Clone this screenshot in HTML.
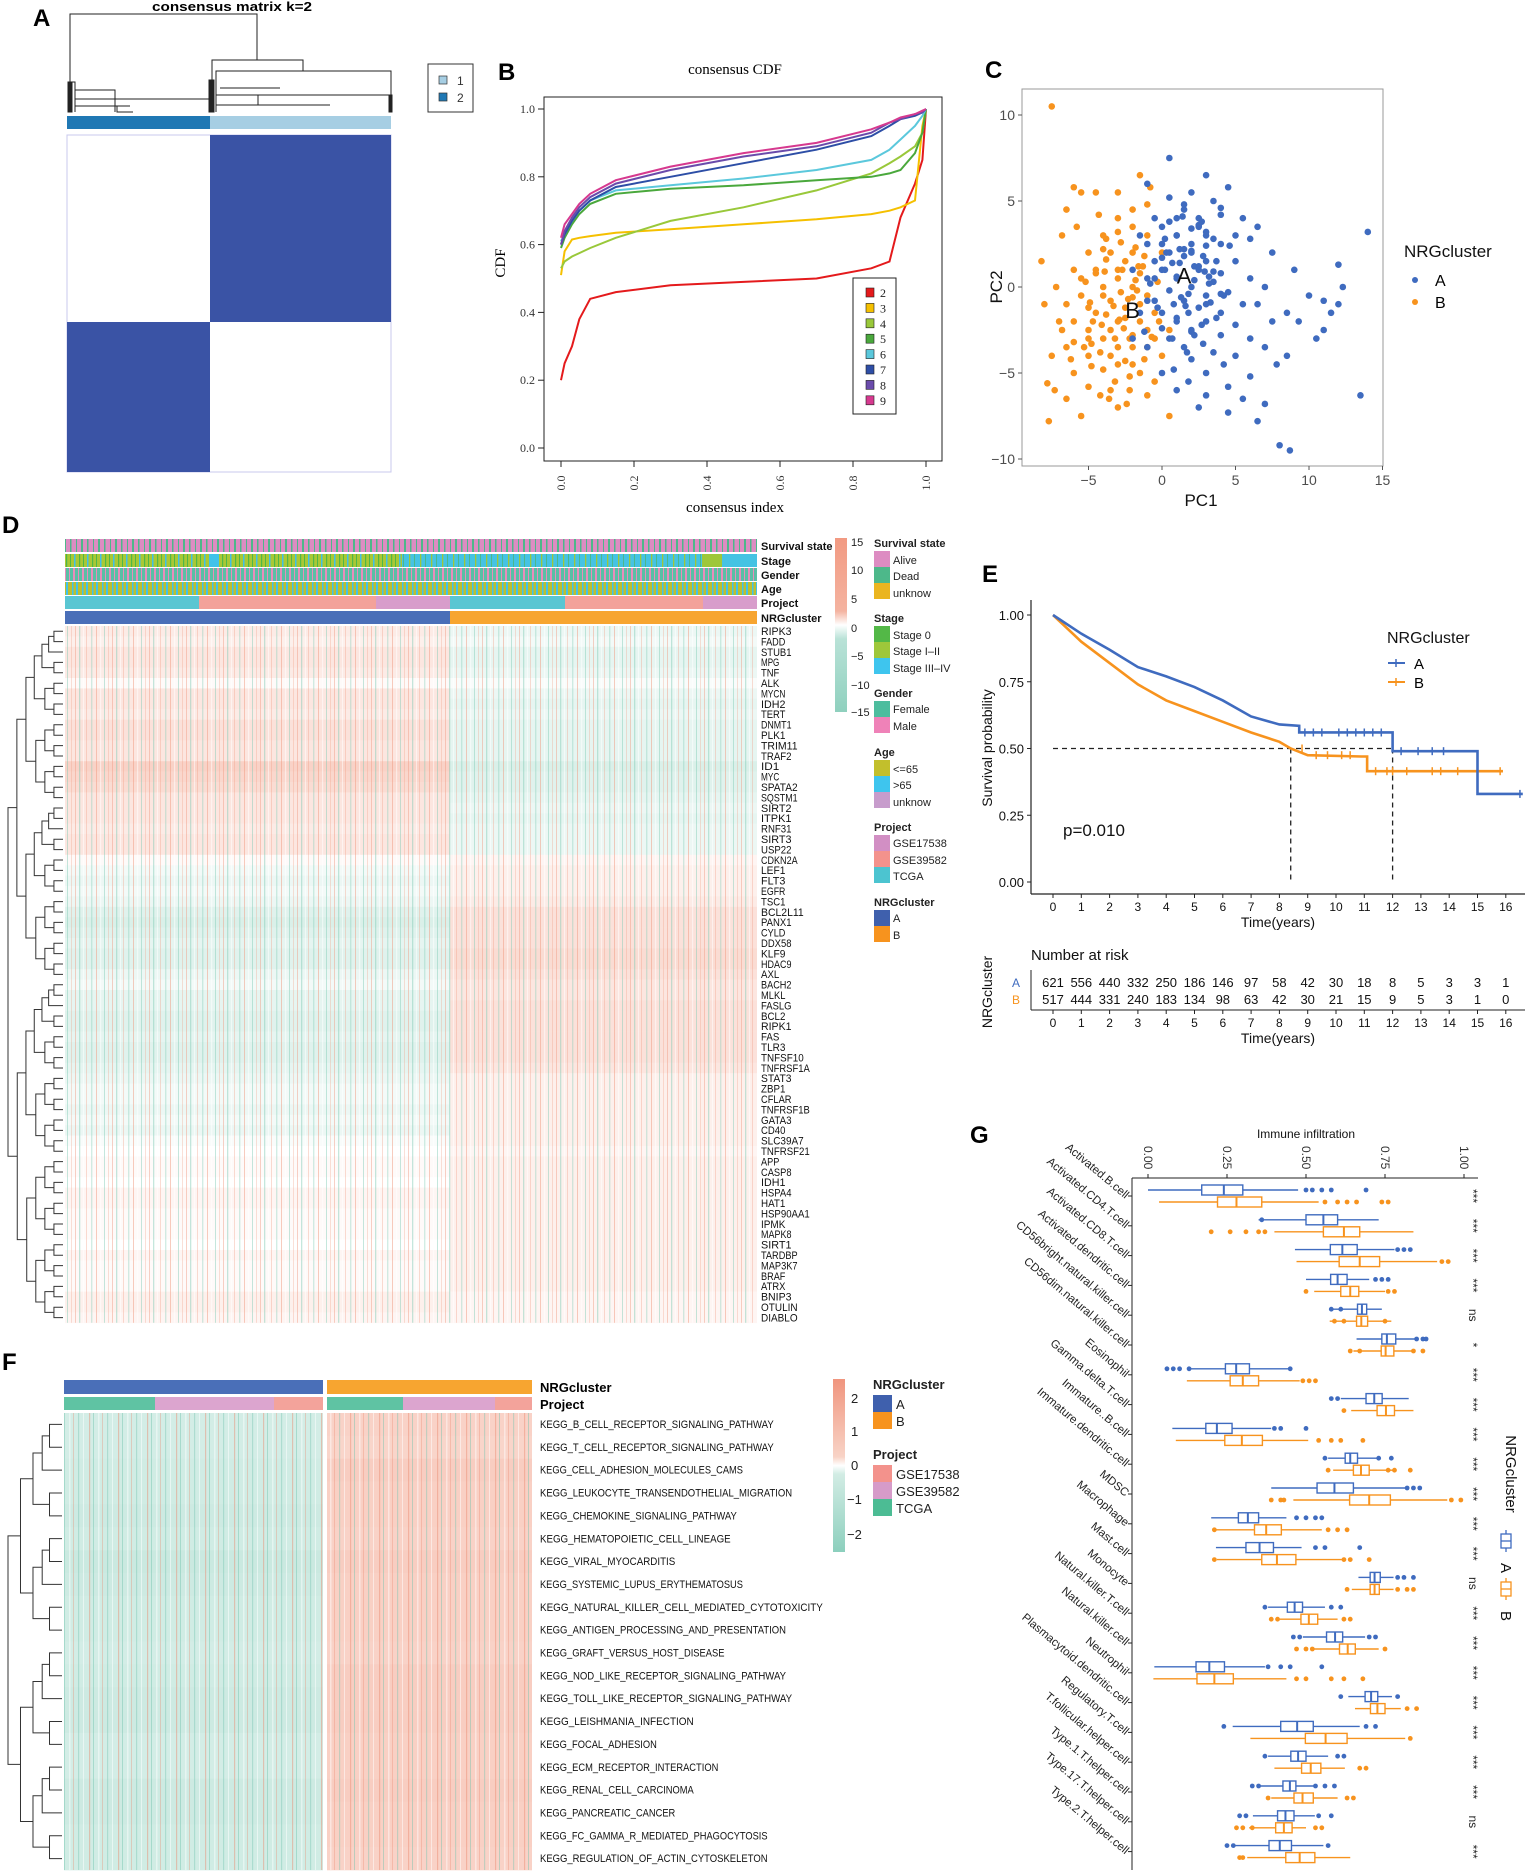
<!DOCTYPE html>
<html><head><meta charset="utf-8">
<style>
html,body{margin:0;padding:0;background:#fff;}
svg{display:block;font-family:"Liberation Sans",sans-serif;}
</style></head>
<body>
<svg id="fig" width="1530" height="1871" viewBox="0 0 1530 1871" xmlns="http://www.w3.org/2000/svg">
<defs>
<pattern id="p-surv" width="17" height="20" patternUnits="userSpaceOnUse"><rect width="17" height="20" fill="#dd8cc2"/><rect x="2" width="1.5" height="20" fill="#4db88a"/><rect x="8" width="1" height="20" fill="#4db88a"/><rect x="13" width="2" height="20" fill="#4db88a"/></pattern>
<pattern id="p-stageL" width="13" height="20" patternUnits="userSpaceOnUse"><rect width="13" height="20" fill="#a9c835"/><rect x="1" width="1.2" height="20" fill="#4fb748"/><rect x="5" width="1" height="20" fill="#4fb748"/><rect x="9" width="1.5" height="20" fill="#40c0e8"/></pattern>
<pattern id="p-stageR" width="11" height="20" patternUnits="userSpaceOnUse"><rect width="11" height="20" fill="#45c3e3"/><rect x="2" width="1.3" height="20" fill="#9ec73a"/><rect x="7" width="1" height="20" fill="#4db88a"/></pattern>
<pattern id="p-gender" width="9" height="20" patternUnits="userSpaceOnUse"><rect width="9" height="20" fill="#5abfa5"/><rect x="1" width="2" height="20" fill="#ea8bbb"/><rect x="6" width="1" height="20" fill="#ea8bbb"/></pattern>
<pattern id="p-age" width="10" height="20" patternUnits="userSpaceOnUse"><rect width="10" height="20" fill="#bcbf30"/><rect x="2" width="1.5" height="20" fill="#41c2ea"/><rect x="6" width="2" height="20" fill="#41c2ea"/></pattern>
<pattern id="p-speck" width="37" height="8" patternUnits="userSpaceOnUse"><rect x="1" width="1" height="8" fill="#f09a80" opacity="0.45"/><rect x="5" width="1.3" height="8" fill="#7ecab5" opacity="0.45"/><rect x="9" width="1" height="8" fill="#ffffff" opacity="0.5"/><rect x="12" width="1" height="8" fill="#f09a80" opacity="0.35"/><rect x="17" width="1.4" height="8" fill="#7ecab5" opacity="0.35"/><rect x="22" width="1" height="8" fill="#f09a80" opacity="0.5"/><rect x="26" width="1.2" height="8" fill="#ffffff" opacity="0.5"/><rect x="30" width="1" height="8" fill="#7ecab5" opacity="0.45"/><rect x="34" width="1" height="8" fill="#f09a80" opacity="0.3"/></pattern>
<pattern id="p-speck2" width="29" height="8" patternUnits="userSpaceOnUse"><rect x="2" width="1.2" height="8" fill="#e98a70" opacity="0.45"/><rect x="6" width="1" height="8" fill="#72c4ae" opacity="0.45"/><rect x="11" width="1.5" height="8" fill="#ffffff" opacity="0.45"/><rect x="15" width="1" height="8" fill="#e98a70" opacity="0.35"/><rect x="20" width="1.2" height="8" fill="#72c4ae" opacity="0.4"/><rect x="25" width="1" height="8" fill="#ffffff" opacity="0.5"/></pattern>
</defs>

<!-- ===== Panel A ===== -->
<g>
<text x="33" y="26" font-size="24" font-weight="bold">A</text>
<text x="232" y="11" font-size="13" font-weight="bold" text-anchor="middle" textLength="160" lengthAdjust="spacingAndGlyphs">consensus matrix k=2</text>
<g stroke="#222" stroke-width="1" fill="none">
<path d="M70,112 V14 H257 V60"/><path d="M212,112 V60 H303 V71"/><path d="M216,112 V71 H391 V112"/>
<path d="M216,95 H391"/><path d="M216,105 H330"/><path d="M220,88 H280"/><path d="M258,95 V105"/>
<path d="M68,82 H75 V112"/><path d="M75,90 H115 V112"/><path d="M75,99 H210 V112"/><path d="M75,106 H130"/><path d="M117,106 V112 H133"/>
<rect x="68" y="82" width="4" height="30" fill="#222"/><rect x="209" y="80" width="5" height="32" fill="#222"/><rect x="389" y="95" width="3" height="17" fill="#222"/>
</g>
<rect x="67" y="116" width="143" height="13" fill="#1f78b4"/>
<rect x="210" y="116" width="181" height="13" fill="#a6cee3"/>
<rect x="67" y="135" width="324" height="337" fill="#fff" stroke="#c8c8ee" stroke-width="1"/>
<rect x="210" y="135" width="181" height="187" fill="#3a53a5"/>
<rect x="67" y="322" width="143" height="150" fill="#3a53a5"/>
<g>
<rect x="428" y="64" width="45" height="48" fill="#fff" stroke="#333"/>
<rect x="439" y="76" width="8" height="8" fill="#a6cee3" stroke="#333" stroke-width="0.7"/><text x="457" y="85" font-size="12" fill="#333">1</text>
<rect x="439" y="93" width="8" height="8" fill="#1f78b4" stroke="#333" stroke-width="0.7"/><text x="457" y="102" font-size="12" fill="#333">2</text>
</g>
</g>

<!-- ===== Panel B static ===== -->
<g font-family="'Liberation Serif',serif">
<text x="498" y="80" font-size="24" font-weight="bold" font-family="'Liberation Sans',sans-serif">B</text>
<text x="735" y="74" font-size="15" text-anchor="middle">consensus CDF</text>
<rect x="544" y="97" width="398" height="364" fill="none" stroke="#222"/>
<text transform="translate(505,263) rotate(-90)" font-size="15" text-anchor="middle">CDF</text>
<text x="735" y="512" font-size="15" text-anchor="middle">consensus index</text>
<g id="b-axes"></g>
<g id="b-curves"></g>
<g id="b-legend"><rect x="853" y="278" width="43" height="136" fill="#fff" stroke="#222"/></g>
</g>

<!-- ===== Panel C static ===== -->
<g>
<text x="985" y="78" font-size="24" font-weight="bold">C</text>
<rect x="1022" y="89" width="361" height="377" fill="#fff" stroke="#999"/>
<g id="c-axes"></g>
<g id="c-points"></g>
<text x="1201" y="506" font-size="17" text-anchor="middle" fill="#111">PC1</text>
<text transform="translate(1002,287) rotate(-90)" font-size="17" text-anchor="middle" fill="#111">PC2</text>
<text x="1404" y="257" font-size="17" fill="#111">NRGcluster</text>
<circle cx="1415" cy="280" r="3" fill="#3f6bbf"/><text x="1435" y="286" font-size="16">A</text>
<circle cx="1415" cy="302" r="3" fill="#f7931e"/><text x="1435" y="308" font-size="16">B</text>
</g>

<!-- ===== Panel D static ===== -->
<g>
<text x="2" y="533" font-size="24" font-weight="bold">D</text>
<rect x="65" y="539" width="692" height="13" fill="url(#p-surv)"/>
<rect x="65" y="554" width="144" height="13" fill="url(#p-stageL)"/>
<rect x="209" y="554" width="10" height="13" fill="#40c2ea"/>
<rect x="219" y="554" width="183" height="13" fill="url(#p-stageL)"/>
<rect x="402" y="554" width="300" height="13" fill="url(#p-stageR)"/>
<rect x="702" y="554" width="20" height="13" fill="#9ec73a"/>
<rect x="722" y="554" width="35" height="13" fill="#45c3e3"/>
<rect x="65" y="568" width="692" height="13" fill="url(#p-gender)"/>
<rect x="65" y="582" width="692" height="13" fill="url(#p-age)"/>
<g>
<rect x="65" y="596" width="134" height="13" fill="#5ac6d2"/><rect x="199" y="596" width="177" height="13" fill="#f3a29a"/><rect x="376" y="596" width="74" height="13" fill="#d89dcb"/>
<rect x="450" y="596" width="115" height="13" fill="#5ac6d2"/><rect x="565" y="596" width="138" height="13" fill="#f3a29a"/><rect x="703" y="596" width="54" height="13" fill="#d89dcb"/>
</g>
<rect x="65" y="611" width="385" height="13" fill="#4a6fb8"/>
<rect x="450" y="611" width="307" height="13" fill="#f7a530"/>
<g font-size="11" font-weight="bold" fill="#111">
<text x="761" y="550">Survival state</text><text x="761" y="565">Stage</text><text x="761" y="579">Gender</text><text x="761" y="593">Age</text><text x="761" y="607">Project</text><text x="761" y="622">NRGcluster</text>
</g>
<g id="d-heat"></g>
<g id="d-dendro" stroke="#333" fill="none" stroke-width="1"></g>
<g id="d-labels" font-size="11" fill="#111"></g>
<g font-size="11" fill="#222">
<defs><linearGradient id="g-d" x1="0" y1="0" x2="0" y2="1"><stop offset="0" stop-color="#f29a82"/><stop offset="0.42" stop-color="#f4b3a0"/><stop offset="0.5" stop-color="#ffffff"/><stop offset="0.58" stop-color="#b9e2d7"/><stop offset="1" stop-color="#8fd0be"/></linearGradient></defs>
<rect x="835" y="538" width="12" height="174" fill="url(#g-d)"/>
<text x="851" y="546">15</text><text x="851" y="574">10</text><text x="851" y="603">5</text><text x="851" y="632">0</text><text x="851" y="660">−5</text><text x="851" y="689">−10</text><text x="851" y="716">−15</text>
<g font-weight="bold"><text x="874" y="547">Survival state</text><text x="874" y="622">Stage</text><text x="874" y="697">Gender</text><text x="874" y="756">Age</text><text x="874" y="831">Project</text><text x="874" y="906">NRGcluster</text></g>
<rect x="874" y="551" width="16" height="16" fill="#dd8cc2"/><text x="893" y="564">Alive</text>
<rect x="874" y="567" width="16" height="16" fill="#4db88a"/><text x="893" y="580">Dead</text>
<rect x="874" y="583" width="16" height="16" fill="#eab520"/><text x="893" y="597">unknow</text>
<rect x="874" y="626" width="16" height="16" fill="#53b847"/><text x="893" y="639">Stage 0</text>
<rect x="874" y="642" width="16" height="16" fill="#9ec73a"/><text x="893" y="655">Stage I–II</text>
<rect x="874" y="658" width="16" height="16" fill="#3ec5ee"/><text x="893" y="672">Stage III–IV</text>
<rect x="874" y="701" width="16" height="16" fill="#4dbd9e"/><text x="893" y="713">Female</text>
<rect x="874" y="717" width="16" height="16" fill="#ef82b8"/><text x="893" y="730">Male</text>
<rect x="874" y="760" width="16" height="16" fill="#c2bf2c"/><text x="893" y="773">&lt;=65</text>
<rect x="874" y="776" width="16" height="16" fill="#3ec5ee"/><text x="893" y="789">&gt;65</text>
<rect x="874" y="792" width="16" height="16" fill="#c79ccc"/><text x="893" y="806">unknow</text>
<rect x="874" y="835" width="16" height="16" fill="#d28fc4"/><text x="893" y="847">GSE17538</text>
<rect x="874" y="851" width="16" height="16" fill="#f3928c"/><text x="893" y="864">GSE39582</text>
<rect x="874" y="867" width="16" height="16" fill="#4cc4d0"/><text x="893" y="880">TCGA</text>
<rect x="874" y="910" width="16" height="16" fill="#3f60ad"/><text x="893" y="922">A</text>
<rect x="874" y="926" width="16" height="16" fill="#f7931e"/><text x="893" y="939">B</text>
</g>
</g>

<!-- ===== Panel E static ===== -->
<g>
<text x="982" y="582" font-size="24" font-weight="bold">E</text>
<g id="e-axes"></g>
<g id="e-curves"></g>
<text transform="translate(992,748) rotate(-90)" font-size="14" text-anchor="middle" fill="#111">Survival probability</text>
<text x="1278" y="927" font-size="14" text-anchor="middle" fill="#111">Time(years)</text>
<text x="1063" y="836" font-size="17" fill="#111">p=0.010</text>
<text x="1387" y="643" font-size="16" fill="#111">NRGcluster</text>
<line x1="1388" y1="663" x2="1405" y2="663" stroke="#3f6bbf" stroke-width="2"/><line x1="1396" y1="659" x2="1396" y2="667" stroke="#3f6bbf" stroke-width="1.5"/>
<text x="1414" y="669" font-size="15">A</text>
<line x1="1388" y1="682" x2="1405" y2="682" stroke="#f7931e" stroke-width="2"/><line x1="1396" y1="678" x2="1396" y2="686" stroke="#f7931e" stroke-width="1.5"/>
<text x="1414" y="688" font-size="15">B</text>
<text x="1031" y="960" font-size="15" fill="#111">Number at risk</text>
<text transform="translate(992,992) rotate(-90)" font-size="14" text-anchor="middle" fill="#111">NRGcluster</text>
<text x="1020" y="987" font-size="12" fill="#3f6bbf" text-anchor="end">A</text>
<text x="1020" y="1004" font-size="12" fill="#f7931e" text-anchor="end">B</text>
<line x1="1031" y1="970" x2="1031" y2="1010" stroke="#222"/>
<line x1="1031" y1="1010" x2="1525" y2="1010" stroke="#222"/>
<text x="1278" y="1043" font-size="14" text-anchor="middle" fill="#111">Time(years)</text>
<g id="e-risk" font-size="13" fill="#111" text-anchor="middle"></g>
</g>

<!-- ===== Panel F static ===== -->
<g>
<text x="2" y="1370" font-size="24" font-weight="bold">F</text>
<rect x="64" y="1380" width="259" height="14" fill="#4a6fb8"/>
<rect x="327" y="1380" width="205" height="14" fill="#f7a530"/>
<g>
<rect x="64" y="1397" width="91" height="13" fill="#5fc3a3"/><rect x="155" y="1397" width="119" height="13" fill="#dca5cf"/><rect x="274" y="1397" width="49" height="13" fill="#f3a39b"/>
<rect x="327" y="1397" width="76" height="13" fill="#5fc3a3"/><rect x="403" y="1397" width="92" height="13" fill="#dca5cf"/><rect x="495" y="1397" width="37" height="13" fill="#f3a39b"/>
</g>
<text x="540" y="1392" font-size="13" font-weight="bold">NRGcluster</text>
<text x="540" y="1409" font-size="13" font-weight="bold">Project</text>
<g id="f-heat"></g>
<g id="f-dendro" stroke="#333" fill="none" stroke-width="1"></g>
<g id="f-labels" font-size="11" fill="#111"></g>
<g font-size="13" fill="#222">
<defs><linearGradient id="g-f" x1="0" y1="0" x2="0" y2="1"><stop offset="0" stop-color="#f0957e"/><stop offset="0.45" stop-color="#f8d3c6"/><stop offset="0.5" stop-color="#ffffff"/><stop offset="0.55" stop-color="#d2ece4"/><stop offset="1" stop-color="#8ccfbd"/></linearGradient></defs>
<rect x="833" y="1379" width="12" height="173" fill="url(#g-f)"/>
<text x="851" y="1403">2</text><text x="851" y="1436">1</text><text x="851" y="1470">0</text><text x="847" y="1504">−1</text><text x="847" y="1539">−2</text>
<text x="873" y="1389" font-weight="bold">NRGcluster</text>
<rect x="873" y="1395" width="19" height="17" fill="#3f60ad"/><text x="896" y="1409">A</text>
<rect x="873" y="1412" width="19" height="17" fill="#f7931e"/><text x="896" y="1426">B</text>
<text x="873" y="1459" font-weight="bold">Project</text>
<rect x="873" y="1465" width="19" height="17" fill="#f3928c"/><text x="896" y="1479">GSE17538</text>
<rect x="873" y="1482" width="19" height="17" fill="#d69bc9"/><text x="896" y="1496">GSE39582</text>
<rect x="873" y="1499" width="19" height="17" fill="#4cbc94"/><text x="896" y="1513">TCGA</text>
</g>
</g>

<!-- ===== Panel G static ===== -->
<g>
<text x="970" y="1143" font-size="24" font-weight="bold">G</text>
<text x="1306" y="1138" font-size="12" text-anchor="middle" fill="#111">Immune infiltration</text>
<line x1="1132" y1="1178" x2="1478" y2="1178" stroke="#222"/>
<line x1="1132" y1="1178" x2="1132" y2="1870" stroke="#222"/>
<g id="g-axes"></g>
<g id="g-boxes"></g>
<text transform="translate(1506,1474) rotate(90)" font-size="15" text-anchor="middle" fill="#111">NRGcluster</text>
<g stroke="#3f6bbf" fill="none" stroke-width="1.3"><rect x="1501" y="1534" width="10" height="14"/><line x1="1501" y1="1541" x2="1511" y2="1541"/><line x1="1506" y1="1530" x2="1506" y2="1534"/><line x1="1506" y1="1548" x2="1506" y2="1552"/></g>
<text transform="translate(1501,1563) rotate(90)" font-size="15" fill="#111">A</text>
<g stroke="#f7931e" fill="none" stroke-width="1.3"><rect x="1501" y="1582" width="10" height="14"/><line x1="1501" y1="1589" x2="1511" y2="1589"/><line x1="1506" y1="1578" x2="1506" y2="1582"/><line x1="1506" y1="1596" x2="1506" y2="1600"/></g>
<text transform="translate(1501,1611) rotate(90)" font-size="15" fill="#111">B</text>
</g>
</svg>

<script>
const NS = "http://www.w3.org/2000/svg";
function mk(tag, attrs, parent) {
  const e = document.createElementNS(NS, tag);
  for (const k in attrs) e.setAttribute(k, attrs[k]);
  parent.appendChild(e);
  return e;
}

/* ---------- Panel B data ---------- */
const cdfX = [0, 0.01, 0.03, 0.05, 0.08, 0.15, 0.3, 0.5, 0.7, 0.85, 0.9, 0.93, 0.97, 0.99, 1.0];
const cdfK = ["2", "3", "4", "5", "6", "7", "8", "9"];
const cdf2 = [0.2, 0.25, 0.3, 0.38, 0.44, 0.46, 0.48, 0.49, 0.5, 0.53, 0.55, 0.68, 0.78, 0.85, 1.0];
const cdf3 = [0.51, 0.58, 0.615, 0.62, 0.625, 0.635, 0.645, 0.66, 0.675, 0.69, 0.70, 0.71, 0.73, 0.95, 1.0];
const cdf4 = [0.53, 0.55, 0.565, 0.575, 0.59, 0.62, 0.67, 0.71, 0.76, 0.81, 0.84, 0.86, 0.89, 0.93, 1.0];
const cdf5 = [0.59, 0.62, 0.66, 0.69, 0.72, 0.75, 0.765, 0.775, 0.79, 0.80, 0.81, 0.82, 0.87, 0.93, 1.0];
const cdf6 = [0.61, 0.63, 0.67, 0.70, 0.73, 0.76, 0.775, 0.795, 0.82, 0.85, 0.88, 0.91, 0.95, 0.98, 1.0];
const cdf7 = [0.60, 0.63, 0.67, 0.70, 0.73, 0.77, 0.80, 0.84, 0.88, 0.92, 0.95, 0.97, 0.98, 0.99, 1.0];
const cdf8 = [0.60, 0.64, 0.68, 0.71, 0.74, 0.78, 0.82, 0.86, 0.89, 0.93, 0.96, 0.97, 0.985, 0.99, 1.0];
const cdf9 = [0.62, 0.66, 0.69, 0.72, 0.75, 0.79, 0.83, 0.87, 0.90, 0.94, 0.96, 0.975, 0.985, 0.995, 1.0];
const cdfSeries = [cdf2, cdf3, cdf4, cdf5, cdf6, cdf7, cdf8, cdf9];
const cdfColors = ["#e41a1c", "#f5c000", "#99c83a", "#4aa83c", "#5bc8dc", "#2d4ea6", "#6a4bab", "#d6398f"];
const cdfTicks = [0, 0.2, 0.4, 0.6, 0.8, 1.0];

/* ---------- Panel C data ---------- */
const pcaAx = [0.5,-1,2,3.5,1.5,2.5,-0.5,4,5,0,1,3,-1,2,4,0.5,1.5,3,-0.5,5,2.5,0,4,1,3.5,6,-1,2,0.5,4.5,3,1.5,5.5,-0.5,2.5,4,0,6.5,1,3,5,2,4,0.5,6,2.8,1.5,3.5,5,2,4.2,0.8,3,6,1.8,4.5,3,5.5,2.5,7,4.5,6.5,8,8.7,8.5,7,7.5,8.5,9,10,11,11.5,12,12.3,12,11,10.5,13.5,14,7,7.5,6,5.5,4.5,3,2.5,1,-1.5,-2,-1.5,-2,-1,0,1,7.8,9.3,6.5,1.2,2.2,3.2,0.2,-0.8,1.8,2.7,3.7,0.7,1.3,2.0,2.9,-1.2,3.3,4.6,1.6,0.3,
  0,1,2,3,0.5,1.5,2.5,3.5,-0.5,0.2,1.2,2.2,3.2,4.2,0.8,1.8,2.8,-1,0,1,2,3,4,0.5,1.5,2.5,3.5,-0.3,0.7,1.7,2.7,3.7,1,2,3,0,4,2.2,1.4,0.4];
const pcaAy = [7.5,6,5.5,5,4.5,4,4,4.2,3,3.5,3,3,2.5,2.5,2.5,2,1.8,1.5,1.5,1.5,1,1,0.8,0.5,0.3,0.5,0.5,0,-0.2,-0.3,-0.5,-0.8,-1,-0.8,-1.2,-1.5,-1.5,-1,-2,-2,-2.2,-2.5,-2.8,-3,-3,-3.3,-3.5,-3.8,-4,-4.2,-4.5,-4.8,-5,-5.2,-5.5,-5.8,-6.3,-6.5,-7,-6.8,-7.3,-7.8,-9.2,-9.5,-4,-3.5,-2,-1.5,1,-0.5,-0.8,-1.5,-1,0,1.3,-2.5,-3,-6.3,3.2,0,2,2.8,4,5.8,6.5,3.5,4,3,1,-1.5,-3,-3.5,-5,-6,-4.5,-2,3.5,2.2,1.2,0.6,2.8,0.2,-0.4,3.8,-1.8,1.4,-0.6,2.1,0.9,-2.6,-0.9,2.4,-1.1,
  2,2.5,3,2,3.2,3.8,2.2,1.2,2.8,0.5,1,1.4,0.4,0.2,-0.5,-1,-1.5,1.8,-0.8,-2.4,-1.8,-2.6,-1,4.6,5.2,4.8,3.6,0.9,-1.2,-3,-3.8,-2.2,1.5,0.6,3.4,2.4,1.7,-0.4,-2.8,4.1];
const pcaBx = [-7.5,-5.5,-6.5,-5.8,-1.5,-0.8,-3,-4,-2,-1,-3.5,-5,-2.5,-4.5,-6,-3,-1.5,-4,-2,-5.5,-3.5,-1,-6.5,-2.5,-4.5,-3,-1.5,-5,-7,-2,-4,-6,-3,-1,-5,-7.5,-2.5,-4,-6,-1.5,-3.2,-5,-7.8,-2.2,-4.2,-6.5,-3,-5.5,-7.7,0.5,-0.5,0,0.5,-8,-8.2,-6.8,-7.3,-2.7,-3.8,-1.2,-0.3,-0.5,-2,-1,-4.8,-3.5,-2.2,-5.2,-6.2,-4.3,-3,-1.8,0,-0.5,-4.7,-2.8,-3.8,-2,-1,-3.5,-5.3,-6.8,-7.2,-6,-4.5,-3.3,-2.3,-4.1,-1.7,-2.9,-3.9,-4.9,-2.6,-1.3,-0.7,
  -2,-3,-4,-2.5,-3.5,-1.5,-4.5,-2,-3,-1,-5,-3.8,-2.8,-1.8,-4.2,-3.2,-2.2,-5.5,-6,-4.8,-3.6,-2.4,-1.2,-0.2,-4,-3,-2,-5,-6.5,-1.6];
const pcaBy = [10.5,5.5,4.5,3.5,6.5,5.8,4,3,3.5,3,2,2,1.5,1,1,0.5,0.8,0,0,-0.5,-0.8,-0.5,-1,-1.2,-1.5,-2,-2,-2.5,-2,-2.8,-3,-3.2,-3.5,-3.5,-4,-4,-4.3,-4.8,-5,-5,-5.5,-5.8,-5.6,-6,-6.3,-6.5,-7,-7.5,-7.8,-7.5,-5.5,-4,-2.5,-1,1.5,3,-6,1,2.8,1.8,0.3,-1.5,4.5,4.8,-3.3,-4,-3,0.3,-4.2,4.2,5.5,2.3,2,-3,-2,-0.3,-1.6,-4.5,-6.3,-6,-3.5,-2.5,0,5.8,5.5,-1.1,-0.7,-2.2,-0.2,-1.9,0.9,-0.9,-2.4,1.2,-2.9,
  2,1,-0.5,-1.8,-2.5,-1,0.8,-3.5,-4.5,-2.5,-1.2,1.6,2.6,0.4,-3.8,-3,-5.2,0.5,-2,-4.6,-6.5,-6.8,-4.2,-2,2.2,3.2,-0.6,-3,-3.5,1.2];
const pcaXTicks = [-5, 0, 5, 10, 15];
const pcaYTicks = [-10, -5, 0, 5, 10];

/* ---------- Panel D data ---------- */
const genes = ["RIPK3","FADD","STUB1","MPG","TNF","ALK","MYCN","IDH2","TERT","DNMT1","PLK1","TRIM11","TRAF2","ID1","MYC","SPATA2","SQSTM1","SIRT2","ITPK1","RNF31","SIRT3","USP22","CDKN2A","LEF1","FLT3","EGFR","TSC1","BCL2L11","PANX1","CYLD","DDX58","KLF9","HDAC9","AXL","BACH2","MLKL","FASLG","BCL2","RIPK1","FAS","TLR3","TNFSF10","TNFRSF1A","STAT3","ZBP1","CFLAR","TNFRSF1B","GATA3","CD40","SLC39A7","TNFRSF21","APP","CASP8","IDH1","HSPA4","HAT1","HSP90AA1","IPMK","MAPK8","SIRT1","TARDBP","MAP3K7","BRAF","ATRX","BNIP3","OTULIN","DIABLO"];
const geneA = [0.4,0.3,0.5,0.5,0.4,0.1,0.5,0.5,0.4,0.6,0.6,0.5,0.5,0.9,0.8,0.7,0.5,0.5,0.5,0.4,0.5,0.5,0.1,-0.2,-0.3,-0.2,-0.3,-0.5,-0.6,-0.5,-0.4,-0.5,-0.5,-0.3,-0.2,-0.4,-0.4,-0.5,-0.5,-0.4,-0.5,-0.5,-0.4,-0.3,-0.2,-0.2,-0.3,-0.2,-0.3,-0.1,0.0,0.1,0.1,0.0,0.2,0.2,0.1,0.1,0.1,0.0,0.2,0.1,0.1,0.1,0.3,0.3,0.2];
const geneB = [-0.3,-0.2,-0.4,-0.4,-0.3,-0.1,-0.3,-0.4,-0.3,-0.4,-0.4,-0.4,-0.4,-0.6,-0.5,-0.5,-0.4,-0.3,-0.4,-0.3,-0.3,-0.3,0.2,0.3,0.3,0.3,0.4,0.6,0.6,0.6,0.6,0.7,0.7,0.6,0.5,0.5,0.6,0.6,0.6,0.6,0.6,0.6,0.5,0.3,0.3,0.3,0.3,0.3,0.3,0.3,0.2,0.3,0.3,0.3,0.3,0.3,0.3,0.3,0.3,0.3,0.3,0.3,0.3,0.3,0.2,0.2,0.2];

/* ---------- Panel E data ---------- */
const kmTimeA = [0,1,2,3,4,5,6,7,8,8.7,8.7,12,12,15,15,16.6];
const kmSurvA = [1,0.93,0.87,0.805,0.77,0.73,0.68,0.62,0.59,0.585,0.56,0.56,0.49,0.49,0.33,0.33];
const kmTimeB = [0,1,2,3,4,5,6,7,8,8.4,9,10.9,11.1,15.9];
const kmSurvB = [1,0.9,0.82,0.74,0.68,0.64,0.6,0.56,0.525,0.50,0.475,0.47,0.415,0.415];
const kmMedians = [8.4, 12];
const kmYTicks = [0, 0.25, 0.5, 0.75, 1.0];
const kmYLabels = ["0.00", "0.25", "0.50", "0.75", "1.00"];
const kmXTicks = [0,1,2,3,4,5,6,7,8,9,10,11,12,13,14,15,16];
const riskA = [621,556,440,332,250,186,146,97,58,42,30,18,8,5,3,3,1];
const riskB = [517,444,331,240,183,134,98,63,42,30,21,15,9,5,3,1,0];
const censorA = [8.9,9.2,9.5,10.1,10.4,10.7,11.0,11.3,11.6,12.3,12.9,13.4,13.8,16.5];
const censorB = [8.8,9.3,9.7,10.2,10.5,11.4,11.8,12.0,12.5,13.4,13.7,14.3,15.8];

/* ---------- Panel F data ---------- */
const pathways = ["KEGG_B_CELL_RECEPTOR_SIGNALING_PATHWAY","KEGG_T_CELL_RECEPTOR_SIGNALING_PATHWAY","KEGG_CELL_ADHESION_MOLECULES_CAMS","KEGG_LEUKOCYTE_TRANSENDOTHELIAL_MIGRATION","KEGG_CHEMOKINE_SIGNALING_PATHWAY","KEGG_HEMATOPOIETIC_CELL_LINEAGE","KEGG_VIRAL_MYOCARDITIS","KEGG_SYSTEMIC_LUPUS_ERYTHEMATOSUS","KEGG_NATURAL_KILLER_CELL_MEDIATED_CYTOTOXICITY","KEGG_ANTIGEN_PROCESSING_AND_PRESENTATION","KEGG_GRAFT_VERSUS_HOST_DISEASE","KEGG_NOD_LIKE_RECEPTOR_SIGNALING_PATHWAY","KEGG_TOLL_LIKE_RECEPTOR_SIGNALING_PATHWAY","KEGG_LEISHMANIA_INFECTION","KEGG_FOCAL_ADHESION","KEGG_ECM_RECEPTOR_INTERACTION","KEGG_RENAL_CELL_CARCINOMA","KEGG_PANCREATIC_CANCER","KEGG_FC_GAMMA_R_MEDIATED_PHAGOCYTOSIS","KEGG_REGULATION_OF_ACTIN_CYTOSKELETON"];
const pathA = [-0.7,-0.7,-0.75,-0.75,-0.8,-0.75,-0.85,-0.8,-0.75,-0.75,-0.7,-0.75,-0.8,-0.8,-0.7,-0.7,-0.8,-0.8,-0.75,-0.75];
const pathB = [0.9,0.85,1.0,0.95,0.95,0.9,1.0,0.95,0.95,0.95,0.9,1.0,1.0,1.0,0.95,0.95,1.0,0.95,0.95,0.9];

/* ---------- Panel G data ---------- */
const cells = ["Activated.B.cell","Activated.CD4.T.cell","Activated.CD8.T.cell","Activated.dendritic.cell","CD56bright.natural.killer.cell","CD56dim.natural.killer.cell","Eosinophil","Gamma.delta.T.cell","Immature..B.cell","Immature.dendritic.cell","MDSC","Macrophage","Mast.cell","Monocyte","Natural.killer.T.cell","Natural.killer.cell","Neutrophil","Plasmacytoid.dendritic.cell","Regulatory.T.cell","T.follicular.helper.cell","Type.1.T.helper.cell","Type.17.T.helper.cell","Type.2.T.helper.cell"];
const boxA = [[0.00,0.17,0.24,0.30,0.475],[0.35,0.50,0.555,0.60,0.73],[0.465,0.577,0.615,0.662,0.78],[0.50,0.578,0.60,0.63,0.70],[0.574,0.663,0.677,0.692,0.74],[0.66,0.74,0.756,0.784,0.846],[0.136,0.245,0.279,0.321,0.454],[0.61,0.69,0.716,0.741,0.825],[0.077,0.183,0.218,0.266,0.39],[0.57,0.624,0.64,0.663,0.735],[0.39,0.535,0.59,0.65,0.815],[0.20,0.286,0.316,0.35,0.438],[0.215,0.31,0.353,0.397,0.486],[0.666,0.703,0.717,0.735,0.777],[0.38,0.441,0.464,0.489,0.56],[0.49,0.565,0.592,0.616,0.687],[0.02,0.152,0.194,0.242,0.37],[0.634,0.687,0.706,0.727,0.772],[0.268,0.42,0.472,0.523,0.67],[0.38,0.452,0.475,0.50,0.57],[0.353,0.427,0.449,0.468,0.528],[0.332,0.41,0.435,0.462,0.528],[0.268,0.383,0.417,0.454,0.555]];
const boxB = [[0.035,0.22,0.28,0.36,0.54],[0.40,0.555,0.62,0.67,0.84],[0.47,0.605,0.67,0.733,0.915],[0.526,0.61,0.64,0.667,0.75],[0.575,0.66,0.675,0.695,0.77],[0.65,0.738,0.752,0.778,0.835],[0.123,0.26,0.30,0.35,0.48],[0.643,0.725,0.753,0.78,0.84],[0.088,0.243,0.297,0.362,0.507],[0.586,0.65,0.674,0.70,0.78],[0.46,0.638,0.70,0.767,0.947],[0.215,0.337,0.374,0.422,0.55],[0.218,0.36,0.408,0.468,0.613],[0.645,0.703,0.717,0.732,0.777],[0.417,0.484,0.509,0.537,0.60],[0.517,0.606,0.632,0.656,0.73],[0.017,0.155,0.21,0.27,0.438],[0.655,0.704,0.726,0.75,0.80],[0.324,0.498,0.562,0.63,0.814],[0.40,0.486,0.515,0.547,0.623],[0.39,0.462,0.489,0.523,0.60],[0.32,0.404,0.43,0.456,0.50],[0.314,0.436,0.48,0.528,0.64]];
const outA = [[0.50,0.52,0.55,0.58,0.69],[0.36],[0.79,0.81,0.83],[0.72,0.74,0.76],[0.58,0.61],[0.85,0.87,0.88],[0.06,0.08,0.10,0.13,0.45],[0.58,0.60],[0.40,0.42,0.50],[0.56,0.73,0.77],[0.82,0.84,0.86],[0.47,0.50,0.53,0.55],[0.53,0.56,0.67],[0.79,0.81,0.84],[0.37,0.58,0.61],[0.46,0.48,0.70,0.72],[0.38,0.42,0.45,0.55],[0.61,0.79],[0.24,0.69,0.72],[0.37,0.60,0.62],[0.33,0.35,0.53,0.56,0.59],[0.29,0.31,0.54,0.58],[0.25,0.27,0.57]];
const outB = [[0.56,0.60,0.63,0.66,0.74,0.76],[0.20,0.26,0.31,0.35,0.37],[0.93,0.95],[0.50,0.76,0.78],[0.59,0.62,0.75],[0.64,0.67,0.84,0.87],[0.49,0.51,0.53],[0.62],[0.54,0.58,0.61,0.68],[0.57,0.76,0.78,0.83],[0.39,0.42,0.43,0.96,0.99],[0.21,0.57,0.60,0.63],[0.21,0.62,0.64,0.70],[0.63,0.79,0.82,0.84],[0.39,0.41,0.62,0.64],[0.47,0.50,0.52,0.75],[0.47,0.50,0.58,0.62,0.68],[0.82,0.85],[0.83],[0.67,0.69],[0.38,0.63,0.65],[0.28,0.30,0.33,0.53,0.55],[0.29,0.30]];
const sig = ["***","***","***","***","ns","*","***","***","***","***","***","***","***","ns","***","***","***","***","***","***","***","ns","***"];
const gTicks = [0, 0.25, 0.5, 0.75, 1.0];
const gTickLabels = ["0.00", "0.25", "0.50", "0.75", "1.00"];

/* ================= Panel B drawing ================= */
const bx = v => 561 + v * 365;
const by = v => 448 - v * 339;
const bAxes = document.getElementById("b-axes");
cdfTicks.forEach(v => {
  const t1 = mk("line", {x1: 538, y1: by(v), x2: 544, y2: by(v), stroke: "#222"}, bAxes);
  
  
  const l1 = mk("text", {x: 535, y: by(v) + 4, "font-size": 12, "text-anchor": "end", fill: "#333"}, bAxes);
  
  
  l1.textContent = v.toFixed(1);
  const t2 = mk("line", {x1: bx(v), y1: 461, x2: bx(v), y2: 467, stroke: "#222"}, bAxes);
  
  
  const l2 = mk("text", {transform: `translate(${bx(v) + 4},483) rotate(-90)`, "font-size": 12, "text-anchor": "middle", fill: "#333"}, bAxes);
  
  
  l2.textContent = v.toFixed(1);
});
const bCurves = document.getElementById("b-curves");
cdfSeries.forEach((s, i) => {
  const pts = s.map((v, j) => bx(cdfX[j]).toFixed(1) + "," + by(v).toFixed(1)).join(" ");
  const pl = mk("polyline", {points: pts, fill: "none", stroke: cdfColors[i], "stroke-width": 2}, bCurves);
  
  
});
const bLeg = document.getElementById("b-legend");
cdfK.forEach((k, i) => {
  const y = 288 + i * 15.4;
  const sq = mk("rect", {x: 866, y: y, width: 8, height: 9, fill: cdfColors[i], stroke: "#222", "stroke-width": 0.6}, bLeg);
  
  
  const tx = mk("text", {x: 880, y: y + 9, "font-size": 12, fill: "#222"}, bLeg);
  
  
  tx.textContent = k;
});

/* ================= Panel C drawing ================= */
const cx = v => 1162 + v * 14.7;
const cy = v => 287 - v * 17.2;
const cAxes = document.getElementById("c-axes");
pcaXTicks.forEach(v => {
  const t = mk("line", {x1: cx(v), y1: 466, x2: cx(v), y2: 470, stroke: "#555"}, cAxes);
  
  
  const l = mk("text", {x: cx(v), y: 485, "font-size": 14, "text-anchor": "middle", fill: "#4d4d4d"}, cAxes);
  
  
  l.textContent = v < 0 ? "−" + Math.abs(v) : String(v);
});
pcaYTicks.forEach(v => {
  const t = mk("line", {x1: 1018, y1: cy(v), x2: 1022, y2: cy(v), stroke: "#555"}, cAxes);
  
  
  const l = mk("text", {x: 1015, y: cy(v) + 5, "font-size": 14, "text-anchor": "end", fill: "#4d4d4d"}, cAxes);
  
  
  l.textContent = v < 0 ? "−" + Math.abs(v) : String(v);
});
const cPts = document.getElementById("c-points");
const nB = Math.min(pcaBx.length, pcaBy.length);
for (let i = 0; i < nB; i++) {
  const c = mk("circle", {cx: cx(pcaBx[i]), cy: cy(pcaBy[i]), r: 3.3, fill: "#f7931e"}, cPts);
  
  
}
const nA = Math.min(pcaAx.length, pcaAy.length);
for (let i = 0; i < nA; i++) {
  const c = mk("circle", {cx: cx(pcaAx[i]), cy: cy(pcaAy[i]), r: 3.3, fill: "#3f6bbf"}, cPts);
  
  
}
const labA = mk("text", {x: cx(1.5), y: cy(0.2), "font-size": 22, "text-anchor": "middle", fill: "#111"}, cPts);


labA.textContent = "A";
const labB = mk("text", {x: cx(-2), y: cy(-1.8), "font-size": 22, "text-anchor": "middle", fill: "#111"}, cPts);


labB.textContent = "B";

/* ================= color helpers ================= */
function tint(v, scale) {
  let t = Math.max(-1, Math.min(1, v / scale));
  const pink = [240, 140, 112], teal = [112, 196, 172];
  const c = t >= 0 ? pink : teal;
  t = Math.abs(t);
  const r = Math.round(255 + (c[0] - 255) * t), g = Math.round(255 + (c[1] - 255) * t), b = Math.round(255 + (c[2] - 255) * t);
  return `rgb(${r},${g},${b})`;
}
function dendro(parent, y0, step, n, xRight, xLeft) {
  function rec(lo, hi) {
    if (lo === hi) return {y: y0 + lo * step, x: xRight};
    const mid = Math.floor((lo + hi) / 2);
    const a = rec(lo, mid), b = rec(mid + 1, hi);
    const span = hi - lo + 1;
    const x = xRight - (xRight - xLeft) * Math.min(1, Math.log2(span) / Math.log2(n));
    const p = mk("path", {d: `M${a.x},${a.y} H${x} V${b.y} H${b.x}`}, parent);
    
    
    return {y: (a.y + b.y) / 2, x: x};
  }
  rec(0, n - 1);
}

/* ================= Panel D drawing ================= */
const dTop = 626, dStep = 10.4;
const dHeat = document.getElementById("d-heat");
genes.forEach((g, i) => {
  const y = dTop + i * dStep;
  const ra = mk("rect", {x: 65, y: y, width: 385, height: dStep + 0.3, fill: tint(geneA[i], 2.3)}, dHeat);
  
  
  const rb = mk("rect", {x: 450, y: y, width: 307, height: dStep + 0.3, fill: tint(geneB[i], 2.3)}, dHeat);
  
  
  const lb = mk("text", {x: 761, y: y + 9, textLength: Math.min(g.length * 6.1, 60), lengthAdjust: "spacingAndGlyphs"}, document.getElementById("d-labels"));
  
  
  lb.textContent = g;
});
const dTex = mk("rect", {x: 65, y: dTop, width: 692, height: genes.length * dStep, fill: "url(#p-speck)"}, dHeat);


dendro(document.getElementById("d-dendro"), dTop + dStep / 2, dStep, genes.length, 63, 8);

/* ================= Panel E drawing ================= */
const ex = t => 1053 + t * 28.3;
const ey = s => 882 - s * 267;
const eAxes = document.getElementById("e-axes");
const ya = mk("line", {x1: 1031, y1: 600, x2: 1031, y2: 894, stroke: "#222", "stroke-width": 1.2}, eAxes);


const xa = mk("line", {x1: 1031, y1: 894, x2: 1525, y2: 894, stroke: "#222", "stroke-width": 1.2}, eAxes);


kmYTicks.forEach((v, i) => {
  const t = mk("line", {x1: 1027, y1: ey(v), x2: 1031, y2: ey(v), stroke: "#222"}, eAxes);
  
  
  const l = mk("text", {x: 1024, y: ey(v) + 5, "font-size": 13, "text-anchor": "end", fill: "#111"}, eAxes);
  
  
  l.textContent = kmYLabels[i];
});
kmXTicks.forEach(v => {
  const t = mk("line", {x1: ex(v), y1: 894, x2: ex(v), y2: 898, stroke: "#222"}, eAxes);
  
  
  const l = mk("text", {x: ex(v), y: 911, "font-size": 12, "text-anchor": "middle", fill: "#111"}, eAxes);
  
  
  l.textContent = v;
  const t2 = mk("line", {x1: ex(v), y1: 1010, x2: ex(v), y2: 1014, stroke: "#222"}, eAxes);
  
  
  const l2 = mk("text", {x: ex(v), y: 1027, "font-size": 12, "text-anchor": "middle", fill: "#111"}, eAxes);
  
  
  l2.textContent = v;
});
const eC = document.getElementById("e-curves");
const hd = mk("line", {x1: ex(0), y1: ey(0.5), x2: ex(kmMedians[1]), y2: ey(0.5), stroke: "#222", "stroke-dasharray": "5,4", "stroke-width": 1.3}, eC);


kmMedians.forEach(m => {
  const vd = mk("line", {x1: ex(m), y1: ey(0.5), x2: ex(m), y2: ey(0), stroke: "#222", "stroke-dasharray": "5,4", "stroke-width": 1.3}, eC);
  
  
});
function stepPath(ts, ss) {
  let d = `M${ex(ts[0])},${ey(ss[0])}`;
  for (let i = 1; i < ts.length; i++) {
    const flat = (ss[i] === ss[i - 1]) || (ts[i] === ts[i - 1]) || ts[i] >= 11;
    if (flat) d += ` H${ex(ts[i])} V${ey(ss[i])}`;
    else d += ` L${ex(ts[i])},${ey(ss[i])}`;
  }
  return d;
}
function survAt(ts, ss, t) {
  let v = ss[0];
  for (let i = 0; i < ts.length; i++) if (ts[i] <= t) v = ss[i];
  return v;
}
const cB = mk("path", {d: stepPath(kmTimeB, kmSurvB), fill: "none", stroke: "#f7931e", "stroke-width": 2.6}, eC);


const cA = mk("path", {d: stepPath(kmTimeA, kmSurvA), fill: "none", stroke: "#3f6bbf", "stroke-width": 2.6}, eC);


censorA.forEach(t => {
  const y = ey(survAt(kmTimeA, kmSurvA, t));
  const m = mk("line", {x1: ex(t), y1: y - 4, x2: ex(t), y2: y + 4, stroke: "#3f6bbf", "stroke-width": 1.5}, eC);
  
  
});
censorB.forEach(t => {
  const y = ey(survAt(kmTimeB, kmSurvB, t));
  const m = mk("line", {x1: ex(t), y1: y - 4, x2: ex(t), y2: y + 4, stroke: "#f7931e", "stroke-width": 1.5}, eC);
  
  
});
const eR = document.getElementById("e-risk");
riskA.forEach((n, i) => {
  const a = mk("text", {x: ex(kmXTicks[i]), y: 987}, eR);
  
  
  a.textContent = n;
  const b = mk("text", {x: ex(kmXTicks[i]), y: 1004}, eR);
  
  
  b.textContent = riskB[i];
});

/* ================= Panel F drawing ================= */
const fTop = 1413, fStep = 22.85;
const fHeat = document.getElementById("f-heat");
pathways.forEach((p, i) => {
  const y = fTop + i * fStep;
  const ra = mk("rect", {x: 64, y: y, width: 259, height: fStep + 0.3, fill: tint(pathA[i], 2.3)}, fHeat);
  
  
  const rb = mk("rect", {x: 327, y: y, width: 205, height: fStep + 0.3, fill: tint(pathB[i], 2.3)}, fHeat);
  
  
  const lb = mk("text", {x: 540, y: y + 15, textLength: p.length * 6.15, lengthAdjust: "spacingAndGlyphs"}, document.getElementById("f-labels"));
  
  
  lb.textContent = p;
});
const fTex = mk("rect", {x: 64, y: fTop, width: 468, height: pathways.length * fStep, fill: "url(#p-speck2)"}, fHeat);


const fGap = mk("rect", {x: 323, y: 1380, width: 4, height: 490, fill: "#fff"}, fHeat);


dendro(document.getElementById("f-dendro"), fTop + fStep / 2, fStep, pathways.length, 62, 8);

/* ================= Panel G drawing ================= */
const gx = v => 1148 + v * 316;
const gy = i => 1196 + i * 29.8;
const gAx = document.getElementById("g-axes");
gTicks.forEach((v, i) => {
  const t = mk("line", {x1: gx(v), y1: 1174, x2: gx(v), y2: 1178, stroke: "#222"}, gAx);
  
  
  const l = mk("text", {transform: `translate(${gx(v) - 4},1146) rotate(90)`, "font-size": 12, fill: "#333"}, gAx);
  
  
  l.textContent = gTickLabels[i];
});
cells.forEach((c, i) => {
  const y = gy(i);
  const t = mk("line", {x1: 1128, y1: y, x2: 1132, y2: y, stroke: "#222"}, gAx);
  
  
  const l = mk("text", {transform: `translate(1125,${y + 3}) rotate(40)`, "font-size": 11.5, "text-anchor": "end", fill: "#222"}, gAx);
  
  
  l.textContent = c;
  const s = mk("text", {transform: `translate(1469,${y}) rotate(90)`, "font-size": 12, "text-anchor": "middle", fill: "#222"}, gAx);
  
  
  s.textContent = sig[i];
});
const gB = document.getElementById("g-boxes");
function drawBox(st, outs, yc, color, name) {
  const g = mk("g", {stroke: color, fill: "none", "stroke-width": 1.4}, gB);
  
  
  const w1 = mk("line", {x1: gx(st[0]), y1: yc, x2: gx(st[1]), y2: yc}, g);
  
  
  const w2 = mk("line", {x1: gx(st[3]), y1: yc, x2: gx(st[4]), y2: yc}, g);
  
  
  const bx2 = mk("rect", {x: gx(st[1]), y: yc - 5, width: gx(st[3]) - gx(st[1]), height: 10, fill: "#fff"}, g);
  
  
  const md = mk("line", {x1: gx(st[2]), y1: yc - 5, x2: gx(st[2]), y2: yc + 5, "stroke-width": 2}, g);
  
  
  outs.forEach(o => {
    const c = mk("circle", {cx: gx(o), cy: yc, r: 2.4, fill: color, stroke: "none"}, g);
    
    
  });
}
cells.forEach((c, i) => {
  drawBox(boxA[i], outA[i], gy(i) - 6, "#3f6bbf", "box-a-" + i);
  drawBox(boxB[i], outB[i], gy(i) + 6, "#f7931e", "box-b-" + i);
});
</script>
</body></html>
